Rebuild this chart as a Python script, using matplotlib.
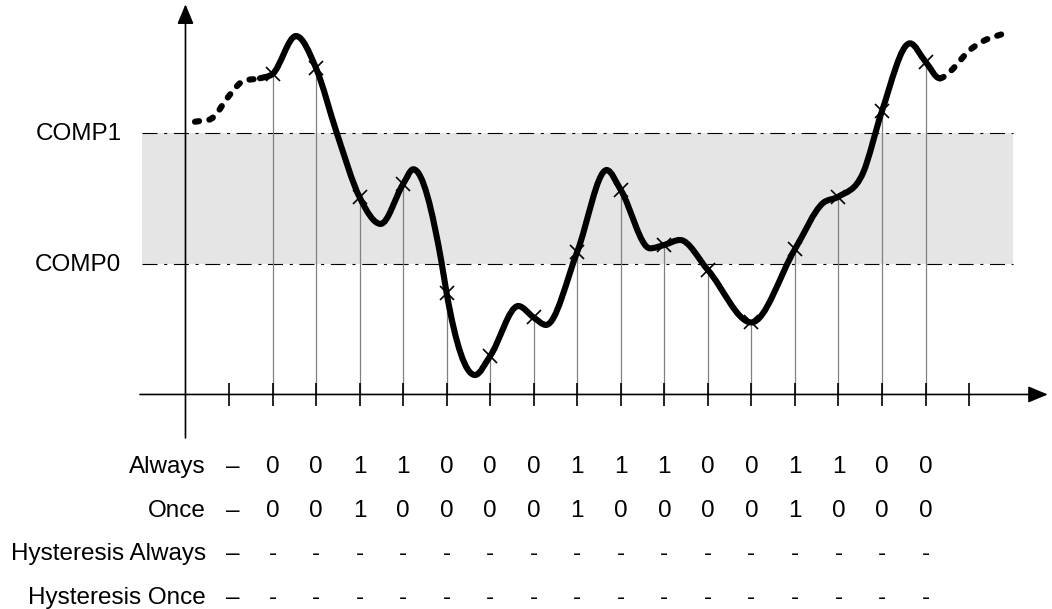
import numpy as np
import matplotlib
matplotlib.use('Agg')
import matplotlib.pyplot as plt
from matplotlib.path import Path
from matplotlib.patches import PathPatch, Rectangle

plt.rcParams['font.family'] = ['Liberation Sans', 'DejaVu Sans']
plt.rcParams['lines.scale_dashes'] = False

# ---------------- data ----------------
comp_labels = ['COMP0', 'COMP1']
comp_levels = [1.0, 2.0]

axis_ticks = list(range(1, 19))
sample_ticks = list(range(2, 18))
sample_values = [2.456, 2.500, 1.511, 1.613, 0.775, 0.295, 0.590, 1.094,
                 1.567, 1.146, 0.954, 0.552, 1.113, 1.516, 2.172, 2.550]

# dashed lead-in of the signal
lead_x = [0.218, 0.64, 0.98, 1.25]
lead_y = [2.090, 2.125, 2.280, 2.385]
# solid signal knots (samples + turning points)
curve_x = [1.711, 2, 2.539, 3, 3.474, 4, 4.484, 5, 5.233, 5.886, 6, 6.651, 7,
           7.645, 8, 8.282, 9, 9.676, 10, 10.671, 11, 11.360, 12, 13, 14,
           14.645, 15, 15.564, 16, 16.643, 17, 17.328]
curve_y = [2.423, 2.456, 2.747, 2.500, 2.006, 1.511, 1.307, 1.613, 1.726, 1.005,
           0.775, 0.149, 0.295, 0.678, 0.590, 0.533, 1.094, 1.720, 1.567, 1.120,
           1.146, 1.184, 0.954, 0.552, 1.113, 1.467, 1.516, 1.697, 2.172, 2.691,
           2.550, 2.423]
# dashed tail of the signal
tail_x = [17.56, 18.02, 18.41, 18.75]
tail_y = [2.474, 2.640, 2.722, 2.760]

row_labels = ['Always', 'Once', 'Hysteresis Always', 'Hysteresis Once']
always_vals = ['0', '0', '1', '1', '0', '0', '0', '1', '1', '1', '0', '0', '1', '1', '0', '0']
once_vals = ['0', '0', '1', '0', '0', '0', '0', '1', '0', '0', '0', '0', '1', '0', '0', '0']
hyst_always_vals = ['-', '-', '-', '-', '-', '-', '-', '-', '-', '-', '-', '-', '-', '-', '-', '-']
hyst_once_vals = ['-', '-', '-', '-', '-', '-', '-', '-', '-', '-', '-', '-', '-', '-', '-', '-']
row_values = [always_vals, once_vals, hyst_always_vals, hyst_once_vals]
row_baselines = [-0.604, -0.937, -1.270, -1.604]

# ---------------- figure ----------------
fig = plt.figure(figsize=(10.52, 6.09), dpi=100)
ax = fig.add_axes([0, 0, 1, 1])
ax.set_xlim(-4.261, 19.906)
ax.set_ylim(-1.644, 3.023)
ax.axis('off')

band_x0, band_x1 = -1.006, 19.01

# gray band between thresholds
ax.add_patch(Rectangle((band_x0, comp_levels[0]), band_x1 - band_x0,
                       comp_levels[1] - comp_levels[0],
                       facecolor='#e5e5e5', edgecolor='none', zorder=0))
for lvl, lab in zip(comp_levels, comp_labels):
    ax.plot([band_x0, band_x1], [lvl, lvl], color='black', lw=0.8,
            linestyle=(0, (10.8, 4.8, 2.2, 4.8)), zorder=1)
    ax.text(-1.47, lvl - 0.05, lab, ha='right', va='baseline', fontsize=17.5)

# axes with arrows
ax.annotate('', xy=(19.81, 0), xytext=(-1.045, 0),
            arrowprops=dict(arrowstyle='-|>,head_length=0.6,head_width=0.25',
                            color='black', lw=1.2, shrinkA=0, shrinkB=0,
                            mutation_scale=20), zorder=3)
ax.annotate('', xy=(0, 2.99), xytext=(0, -0.333),
            arrowprops=dict(arrowstyle='-|>,head_length=0.6,head_width=0.25',
                            color='black', lw=1.2, shrinkA=0, shrinkB=0,
                            mutation_scale=20), zorder=3)
ax.vlines(axis_ticks, -0.088, 0.088, color='black', lw=1.2, zorder=3)

# sampling lines
ax.vlines(sample_ticks, 0, sample_values, color='#808080', lw=0.9, zorder=2)


# smooth curve through the knots: cubic Hermite pieces drawn as Bezier path
def smooth_path(xs, ys, start, stop):
    x = np.asarray(xs, float)
    y = np.asarray(ys, float)
    n = len(x)
    h = np.diff(x)
    d = np.diff(y) / h
    m = np.zeros(n)
    m[0], m[-1] = d[0], d[-1]
    for i in range(1, n - 1):
        if d[i - 1] * d[i] <= 0:
            m[i] = 0.0          # turning point -> flat tangent
        else:
            m[i] = (h[i] * d[i - 1] + h[i - 1] * d[i]) / (h[i - 1] + h[i])
    verts = [(x[start], y[start])]
    codes = [Path.MOVETO]
    for i in range(start, stop):
        hh = h[i] / 3.0
        verts += [(x[i] + hh, y[i] + m[i] * hh),
                  (x[i + 1] - hh, y[i + 1] - m[i + 1] * hh),
                  (x[i + 1], y[i + 1])]
        codes += [Path.CURVE4] * 3
    return Path(verts, codes)


all_x = lead_x + curve_x + tail_x
all_y = lead_y + curve_y + tail_y
i_s = len(lead_x)
i_e = len(lead_x) + len(curve_x) - 1

dash = (0, (3.0, 7.5))
ax.add_patch(PathPatch(smooth_path(all_x, all_y, 0, i_s), fill=False, lw=4.4,
                       edgecolor='black', capstyle='round', linestyle=dash,
                       zorder=4))
ax.add_patch(PathPatch(smooth_path(all_x, all_y, i_s, i_e), fill=False, lw=4.4,
                       edgecolor='black', capstyle='round', joinstyle='round',
                       zorder=4))
ax.add_patch(PathPatch(smooth_path(all_x, all_y, i_e, len(all_x) - 1),
                       fill=False, lw=4.4, edgecolor='black', capstyle='round',
                       linestyle=dash, zorder=4))

# sample crosses
ax.plot(sample_ticks, sample_values, linestyle='none', marker='x',
        markersize=9.5, markeredgewidth=1.2, color='black', zorder=5)

# table of results
for lab, vals, yb in zip(row_labels, row_values, row_baselines):
    ax.text(0.47, yb, lab, ha='right', va='baseline', fontsize=17.5)
    ax.text(1.09, yb, '\u2013', ha='center', va='baseline', fontsize=17.5)
    for t, v in zip(sample_ticks, vals):
        ax.text(t, yb, v, ha='center', va='baseline', fontsize=17.5)

fig.savefig('out.png', dpi=100)
